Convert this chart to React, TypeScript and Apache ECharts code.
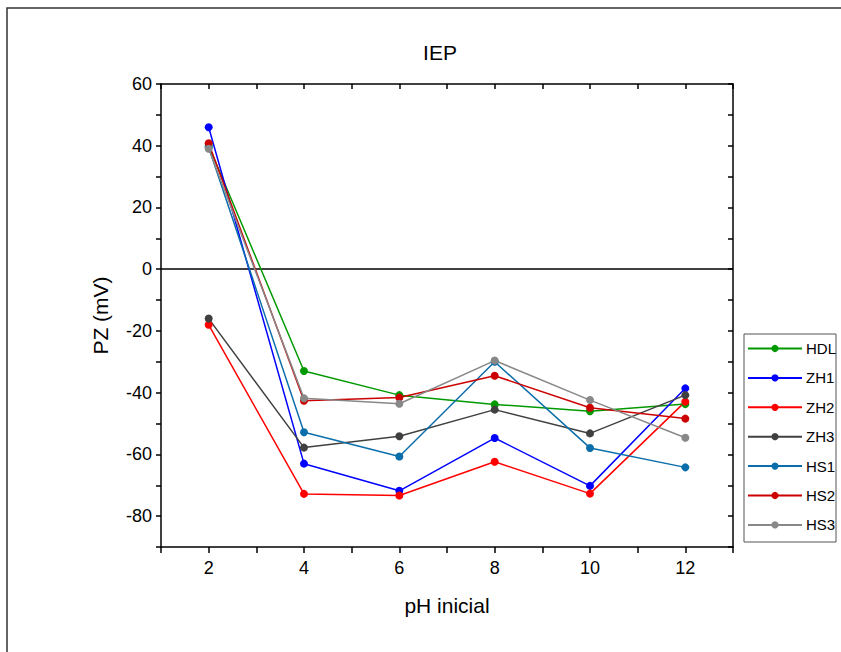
import React, { useEffect, useRef } from "react";
import * as echarts from "echarts";

const pH = [2, 4, 6, 8, 10, 12];
const seriesNames = ["HDL", "ZH1", "ZH2", "ZH3", "HS1", "HS2", "HS3"];
const HDL = [40, -33, -40.8, -43.8, -46, -43.7];
const ZH1 = [46, -63, -71.8, -54.7, -70.2, -38.6];
const ZH2 = [-18, -72.8, -73.3, -62.4, -72.7, -42.9];
const ZH3 = [-16, -57.8, -54.1, -45.5, -53.2, -40.8];
const HS1 = [39.5, -52.8, -60.7, -30, -57.9, -64.2];
const HS2 = [40.8, -42.6, -41.6, -34.5, -44.9, -48.4];
const HS3 = [39, -41.8, -43.6, -29.6, -42.4, -54.6];
const seriesValues = [HDL, ZH1, ZH2, ZH3, HS1, HS2, HS3];
const colors = ["#009a00", "#0000ff", "#ff0000", "#404040", "#0a6eaa", "#cc0000", "#888888"];

const FONT = "Liberation Sans, Arial, sans-serif";

export default function App() {
  const ref = useRef<HTMLDivElement>(null);
  useEffect(() => {
    document.body.style.margin = "0";
    const chart = echarts.init(ref.current!, null, { renderer: "svg" });
    const series: any[] = seriesNames.map((name, i) => ({
      name,
      type: "line",
      data: pH.map((x, j) => [x, seriesValues[i][j]]),
      symbol: "circle",
      symbolSize: 8,
      itemStyle: { color: colors[i] },
      lineStyle: { color: colors[i], width: 1.5 },
      z: 3,
    }));
    series[0].markLine = {
      silent: true,
      symbol: "none",
      label: { show: false },
      lineStyle: { color: "#000", type: "solid", width: 1.5 },
      data: [{ yAxis: 0 }],
      z: 1,
    };
    const axisLine = { show: true, onZero: false, lineStyle: { color: "#000", width: 1.5 } };
    chart.setOption({
      animation: false,
      backgroundColor: "#fff",
      textStyle: { fontFamily: FONT },
      title: {
        text: "IEP",
        left: 435,
        top: 37,
        textAlign: "center",
        textStyle: { fontFamily: FONT, fontSize: 21, fontWeight: "normal", color: "#000" },
      },
      grid: { left: 161, right: 108, top: 84, bottom: 105 },
      xAxis: [
        {
          type: "value",
          min: 1,
          max: 13,
          interval: 1,
          position: "bottom",
          axisLine,
          axisTick: { show: true, length: 6, lineStyle: { color: "#000", width: 1.5 } },
          axisLabel: {
            margin: 12,
            fontSize: 18,
            color: "#000",
            fontFamily: FONT,
            formatter: (v: number) => (v % 2 === 0 ? String(v) : ""),
          },
          splitLine: { show: false },
          name: "pH inicial",
          nameLocation: "middle",
          nameGap: 48,
          nameTextStyle: { fontSize: 21, color: "#000", fontFamily: FONT },
        },
        {
          type: "value",
          min: 1,
          max: 13,
          interval: 1,
          position: "top",
          axisLine,
          axisTick: { show: true, inside: true, length: 5, lineStyle: { color: "#000", width: 1.5 } },
          axisLabel: { show: false },
          splitLine: { show: false },
        },
      ],
      yAxis: [
        {
          type: "value",
          min: -90,
          max: 60,
          interval: 10,
          position: "left",
          axisLine,
          axisTick: { show: true, length: 5, lineStyle: { color: "#000", width: 1.5 } },
          axisLabel: {
            margin: 9,
            fontSize: 18,
            color: "#000",
            fontFamily: FONT,
            formatter: (v: number) => (v % 20 === 0 ? String(v) : ""),
          },
          splitLine: { show: false },
          name: "PZ (mV)",
          nameLocation: "middle",
          nameGap: 50,
          nameTextStyle: { fontSize: 21, color: "#000", fontFamily: FONT },
        },
        {
          type: "value",
          min: -90,
          max: 60,
          interval: 10,
          position: "right",
          axisLine,
          axisTick: { show: true, inside: true, length: 5, lineStyle: { color: "#000", width: 1.5 } },
          axisLabel: { show: false },
          splitLine: { show: false },
        },
      ],
      legend: {
        data: seriesNames,
        orient: "vertical",
        left: 747,
        top: 334,
        padding: [7, 0, 9, 0],
        itemWidth: 54,
        itemHeight: 9,
        itemGap: 14.4,
        textStyle: { fontSize: 15, color: "#000", fontFamily: FONT, padding: [0, 0, 0, -1] },
      },
      graphic: [
        {
          type: "rect",
          shape: { x: 7, y: 8, width: 900, height: 700 },
          style: { fill: "none", stroke: "#333", lineWidth: 1.5 },
          silent: true,
          z: 0,
        },
        {
          type: "rect",
          shape: { x: 744, y: 334, width: 92, height: 208 },
          style: { fill: "none", stroke: "#555", lineWidth: 1 },
          silent: true,
          z: 0,
        },
      ],
      series,
    });
    return () => chart.dispose();
  }, []);
  return <div ref={ref} style={{ width: 841, height: 652 }} />;
}
